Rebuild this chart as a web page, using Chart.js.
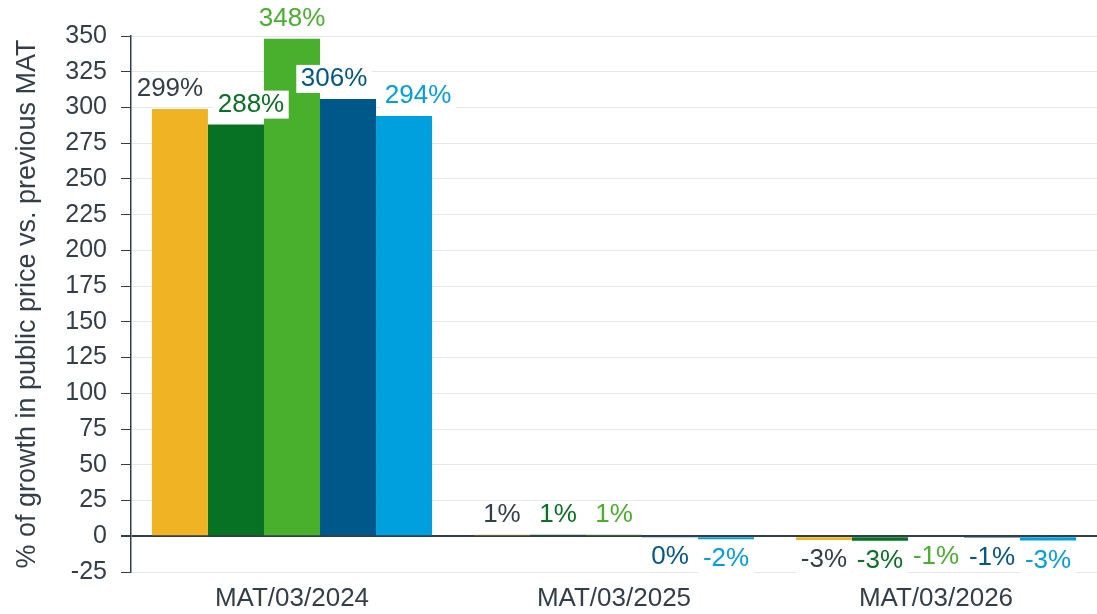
<!DOCTYPE html>
<html>
<head>
<meta charset="utf-8">
<script src="https://cdn.jsdelivr.net/npm/chart.js@4"></script>
<style>
  html, body { margin: 0; padding: 0; background: #fff; }
  #wrap { width: 1097px; height: 614px; }
</style>
</head>
<body>
<div id="wrap"><canvas id="growthChart"></canvas></div>
<script>
const categories = ['MAT/03/2024', 'MAT/03/2025', 'MAT/03/2026'];
const seriesNames = ['Series 1', 'Series 2', 'Series 3', 'Series 4', 'Series 5'];
const series1 = [299, 1, -2.6];
const series2 = [288, 1, -3.1];
const series3 = [348, 1, -0.7];
const series4 = [306, -0.3, -1];
const series5 = [294, -2, -3];
const barColors = ['#f0b323', '#077223', '#48b02c', '#00578a', '#00a0df'];
const labelColors = ['#333f48', '#077223', '#48b02c', '#00578a', '#00a0df'];

const dark = '#333f48';
const fontFamily = '"Liberation Sans", Arial, sans-serif';

// labels in the first group are pushed sideways so they don't collide
// key is dataset-index/point-index
const labelNudge = { '0-0': -10, '1-0': 15, '3-0': -14, '4-0': 14 };

// value labels with a white box behind them
const valueLabels = {
  id: 'valueLabels',
  afterDatasetsDraw(chart) {
    const ctx = chart.ctx;
    ctx.save();
    ctx.font = '26px ' + fontFamily;
    ctx.textAlign = 'center';
    ctx.textBaseline = 'middle';
    chart.data.datasets.forEach((ds, i) => {
      const meta = chart.getDatasetMeta(i);
      meta.data.forEach((bar, j) => {
        const v = ds.data[j];
        const text = Math.round(v) + '%';
        const x = bar.x + (labelNudge[i + '-' + j] || 0);
        const y = v >= 0 ? bar.y - 20 : bar.y + 20;
        const w = ctx.measureText(text).width + 9;
        ctx.fillStyle = '#fff';
        ctx.fillRect(x - w / 2, y - 14, w, 28);
        ctx.fillStyle = labelColors[i];
        ctx.fillText(text, x, y);
      });
    });
    ctx.restore();
  }
};

const allSeries = [series1, series2, series3, series4, series5];

new Chart(document.getElementById('growthChart'), {
  type: 'bar',
  data: {
    labels: categories,
    datasets: allSeries.map((s, i) => ({
      label: seriesNames[i],
      data: s,
      backgroundColor: barColors[i],
      categoryPercentage: 0.87,
      barPercentage: 1
    }))
  },
  options: {
    responsive: true,
    maintainAspectRatio: false,
    animation: false,
    layout: { padding: { top: 36, right: 0, bottom: 0, left: 0 } },
    plugins: {
      legend: { display: false },
      tooltip: { enabled: false }
    },
    scales: {
      x: {
        afterFit(scale) { scale.height = 42; },
        grid: { display: false, drawTicks: false },
        border: { display: false },
        ticks: { color: dark, font: { family: fontFamily, size: 26 }, padding: 11 }
      },
      y: {
        min: -25,
        max: 350,
        afterFit(scale) { scale.width = 131; },
        border: { color: dark, width: 1.5 },
        grid: {
          color: ctx => ctx.tick && ctx.tick.value === 0 ? dark : '#e3e7ee',
          lineWidth: ctx => ctx.tick && ctx.tick.value === 0 ? 2 : 1,
          tickColor: dark,
          tickLength: 10
        },
        ticks: {
          stepSize: 25,
          color: dark,
          font: { family: fontFamily, size: 25 },
          padding: 14
        },
        title: {
          display: true,
          text: '% of growth in public price vs. previous MAT',
          color: dark,
          font: { family: fontFamily, size: 27 },
          padding: { top: 11, bottom: 0 }
        }
      }
    }
  },
  plugins: [valueLabels]
});
</script>
</body>
</html>
